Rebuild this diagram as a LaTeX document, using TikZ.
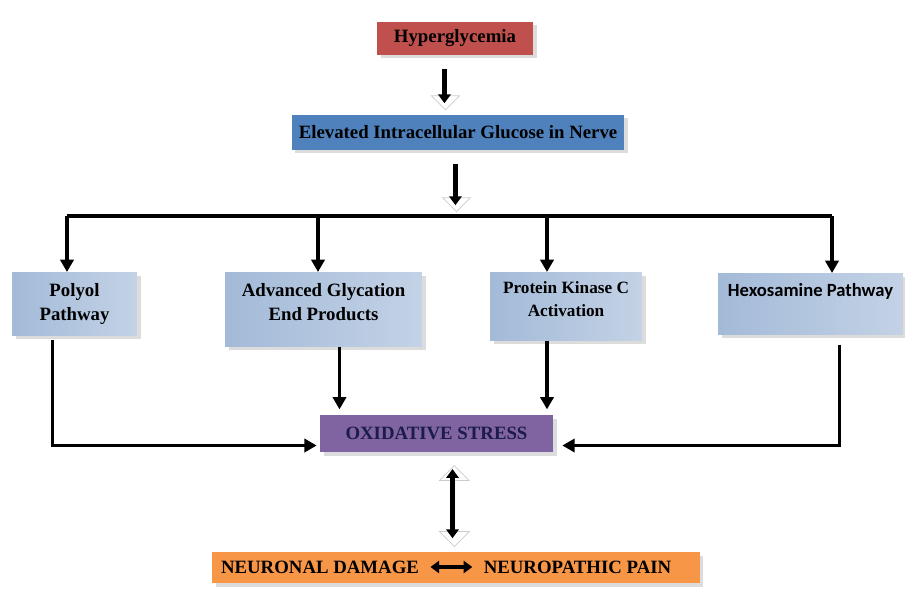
\documentclass[tikz,border=0pt]{standalone}
\usepackage{fontspec}
\setmainfont{Liberation Serif}
\newfontfamily\calibrifont{Carlito}
\usetikzlibrary{shapes,arrows.meta,positioning,calc,shadows}

\definecolor{hyperred}{HTML}{C0504D}
\definecolor{nerveblue}{HTML}{4F81BD}
\definecolor{pathblue}{HTML}{A3BAD8}
\definecolor{stresspurple}{HTML}{8064A2}
\definecolor{painorange}{HTML}{F79646}
\definecolor{inknavy}{HTML}{1C1C48}

\renewcommand{\arraystretch}{1.05}

\begin{document}
\begin{tikzpicture}[x=0.02cm, y=-0.02cm, font=\fontsize{10.7}{13}\selectfont\bfseries,
  box/.style={inner sep=0pt, drop shadow={shadow xshift=2pt, shadow yshift=-2pt, fill=gray!55}},
  pathbox/.style={box, left color=pathblue, middle color=pathblue!18, right color=pathblue!65, anchor=north},
  flow/.style={line width=2pt, -{Triangle[length=7pt,width=7.5pt]}},
  fat/.style={line width=3.2pt, -{Triangle[length=5pt,width=7pt]}},
  hollow/.style={single arrow, draw=gray!40, fill=white, rotate=-90, inner sep=0pt,
    minimum width=0.56cm, single arrow head extend=0.18cm}
]
\useasboundingbox (0,0) rectangle (905,589);

% Top of the chain
\node (hyper) [box, fill=hyperred, minimum width=3.12cm, minimum height=0.66cm] at (455,38) {Hyperglycemia};
\node (nerve) [box, fill=nerveblue, minimum width=6.66cm, minimum height=0.7cm] at (458,132) {Elevated Intracellular Glucose in Nerve};

\node (h1) [hollow, minimum height=0.8cm] at ($(hyper.south)!0.5!(nerve.north)+(-11,5)$) {};
\draw[fat] ([xshift=-0.6pt]h1.west) -- ([xshift=-0.6pt,yshift=4pt]h1.east);

% Split into the four pathways
\coordinate (split) at (455,216);
\node (h2) [hollow, minimum height=0.94cm] at ($(nerve.south)!0.5!(split)+(0,5)$) {};
\draw[fat] ([xshift=-0.6pt]h2.west) -- ([xshift=-0.6pt,yshift=4pt]h2.east);

\node (polyol) [pathbox, minimum width=2.5cm, text height=0.48cm, text depth=0.78cm] at (74.5,272)
  {\begin{tabular}[t]{@{}c@{}}Polyol\\Pathway\end{tabular}};
\node (age) [pathbox, minimum width=3.94cm, text height=0.48cm, text depth=1.0cm] at (323.5,272)
  {\begin{tabular}[t]{@{}c@{}}Advanced Glycation\\End Products\end{tabular}};
\node (pkc) [pathbox, minimum width=3.04cm, text height=0.42cm, text depth=0.94cm,
  font=\fontsize{9.8}{12.5}\selectfont\bfseries] at (566,272)
  {\begin{tabular}[t]{@{}c@{}}Protein Kinase C\\Activation\end{tabular}};
\node (hexo) [pathbox, minimum width=3.7cm, text height=0.46cm, text depth=0.76cm,
  font=\calibrifont\fontsize{10.6}{13}\selectfont\bfseries] at (810.5,273) {Hexosamine Pathway};

\coordinate (busL) at (67,216);
\coordinate (busR) at (832,216);
\draw[line width=2pt] (busL) -- (busR);
\foreach \b/\x in {polyol/67, age/318, pkc/547, hexo/832} {
  \coordinate (t\b) at (\x,216);
  \draw[flow] (t\b) -- (t\b |- \b.north);
}

% Oxidative stress
\node (stress) [box, fill=stresspurple, text=inknavy, minimum width=4.66cm, minimum height=0.74cm] at (436.5,433.5) {OXIDATIVE STRESS};

\coordinate (ageout) at ($(age.south)+(16,0)$);
\coordinate (pkcout) at ($(pkc.south)+(-19,0)$);
\draw[flow] ($(polyol.south)+(-22,4)$) |- ($(stress.west)+(-3,12)$);
\draw[flow] (ageout) -- ([yshift=3pt]ageout |- stress.north);
\draw[flow] (pkcout) -- ([yshift=3pt]pkcout |- stress.north);
\draw[flow] ($(hexo.south)+(29,10)$) |- ($(stress.east)+(9,12)$);

% Outcome
\node (outcome) [box, fill=painorange, minimum width=9.76cm, minimum height=0.62cm] at (456,567.5) {};
\node (damage) at (320,567) {NEURONAL DAMAGE};
\node (pain) at (577.5,567) {NEUROPATHIC PAIN};
\draw[line width=2pt, shorten <=3pt, shorten >=3pt,
  {Triangle[length=5pt,width=7pt]}-{Triangle[length=5pt,width=7pt]}] (damage) -- (pain);

\node (h3) [double arrow, draw=gray!40, fill=white, rotate=90, inner sep=0pt,
  minimum width=0.6cm, double arrow head extend=0.2cm, minimum height=1.62cm]
  at ($(stress.south)!0.5!(outcome.north)+(8,4)$) {};
\draw[line width=3.2pt, {Triangle[length=5pt,width=7pt]}-{Triangle[length=5pt,width=7pt]}]
  ([xshift=-1pt,yshift=-2.3pt]h3.east) -- ([xshift=-1pt,yshift=5pt]h3.west);

\end{tikzpicture}
\end{document}
